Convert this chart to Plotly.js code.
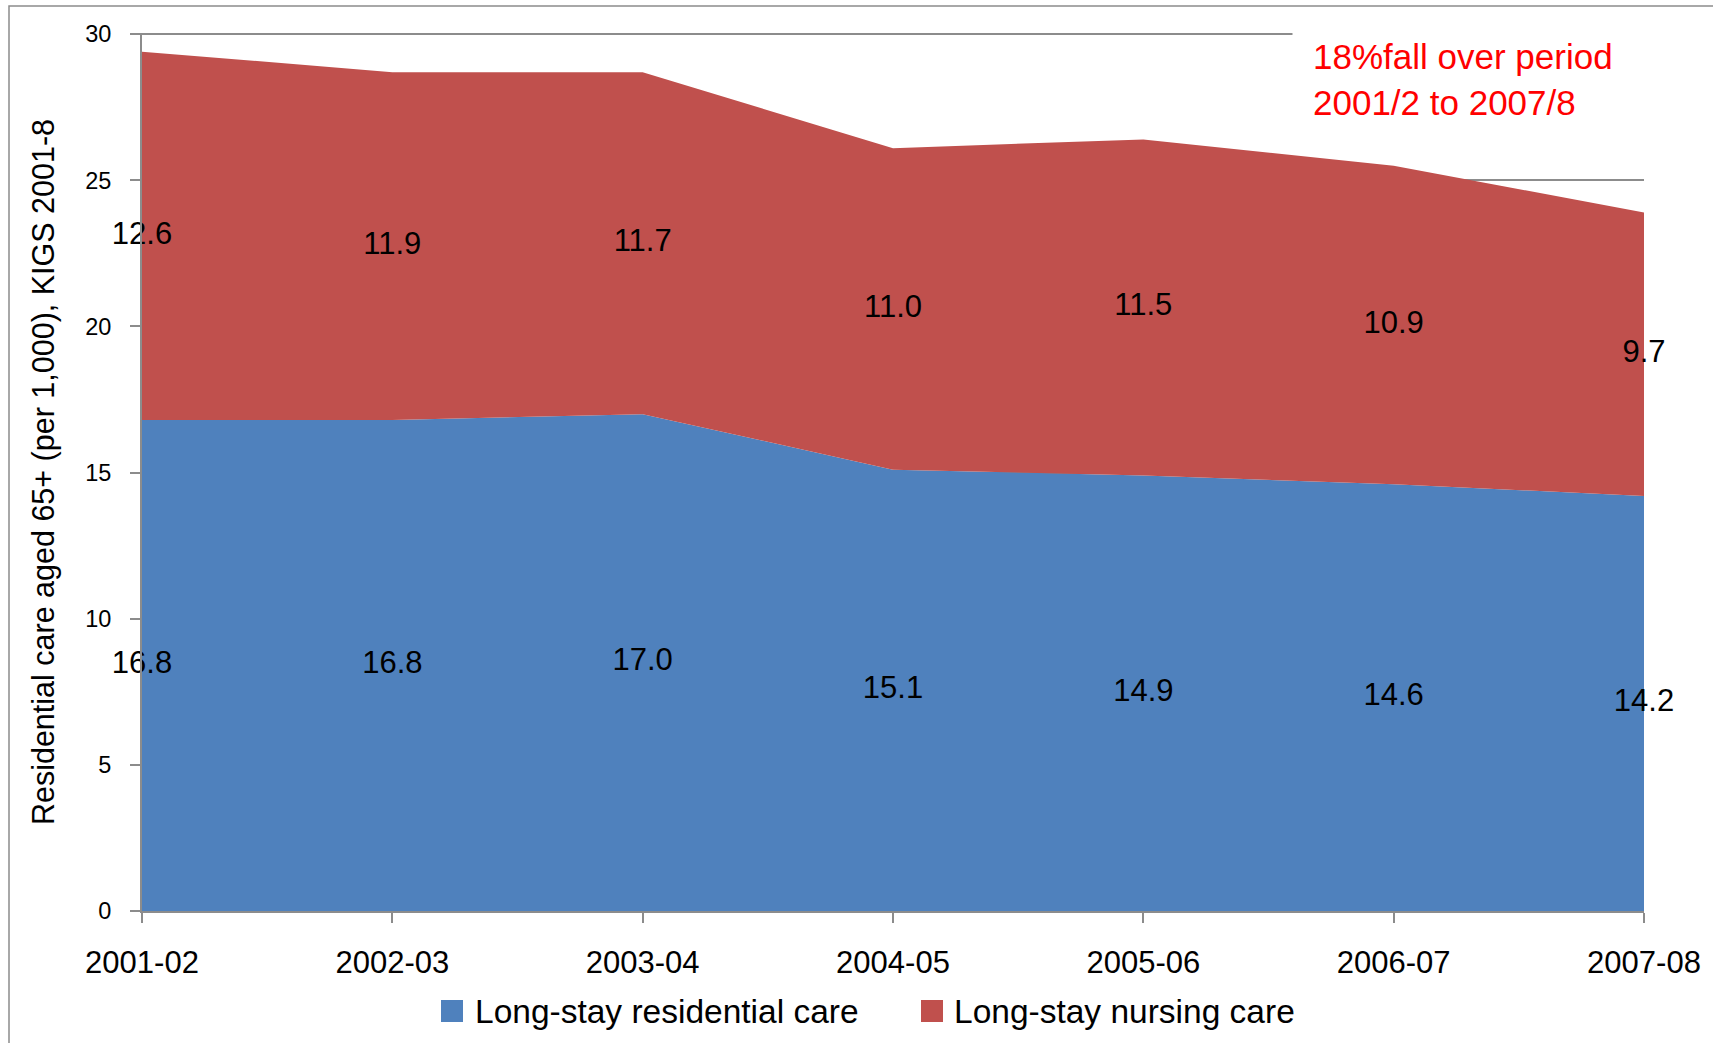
<!DOCTYPE html>
<html>
<head>
<meta charset="utf-8">
<script src="https://cdn.plot.ly/plotly-3.0.1.min.js"></script>
<style>
  html, body { margin: 0; padding: 0; background: #ffffff; }
  #chart { width: 1713px; height: 1043px; }
</style>
</head>
<body>
<div id="chart"></div>
<script>
// ---- data ----
const categories = ['2001-02', '2002-03', '2003-04', '2004-05', '2005-06', '2006-07', '2007-08'];
const residential = [16.8, 16.8, 17.0, 15.1, 14.9, 14.6, 14.2];
const nursing = [12.6, 11.9, 11.7, 11.0, 11.5, 10.9, 9.7];
const seriesNames = ['Long-stay residential care', 'Long-stay nursing care'];
const yTicks = [0, 5, 10, 15, 20, 25, 30];
const yTitle = 'Residential care aged 65+ (per 1,000), KIGS 2001-8';
const noteLines = ['18%fall over period', '2001/2 to 2007/8'];

// ---- style ----
const FONT = 'Arial, "Liberation Sans", sans-serif';
const BLUE = '#4F81BD';
const RED = '#C0504D';
const GRID = '#8c8c8c';
const W = 1713, H = 1043;
const M = {l: 142, r: 69, t: 33, b: 132};
const PW = W - M.l - M.r, PH = H - M.t - M.b;
const px = x => (x - M.l) / PW;          // pixel x -> paper x
const py = y => (H - M.b - y) / PH;      // pixel y -> paper y

const fmt = v => v.toFixed(1);
const resMid = residential.map(v => v / 2);
const nurMid = nursing.map((v, i) => residential[i] + v / 2);

const traces = [
  {
    type: 'scatter', mode: 'none', x: categories, y: residential,
    stackgroup: 'one', fillcolor: BLUE, name: seriesNames[0],
    line: {width: 0}, hoverinfo: 'skip', showlegend: false
  },
  {
    type: 'scatter', mode: 'none', x: categories, y: nursing,
    stackgroup: 'one', fillcolor: RED, name: seriesNames[1],
    line: {width: 0}, hoverinfo: 'skip', showlegend: false
  },
  {
    type: 'scatter', mode: 'text', x: categories, y: resMid,
    text: residential.map(fmt), textposition: 'middle center',
    textfont: {family: FONT, size: 31, color: '#000'},
    cliponaxis: false, showlegend: false, hoverinfo: 'skip'
  },
  {
    type: 'scatter', mode: 'text', x: categories, y: nurMid,
    text: nursing.map(fmt), textposition: 'middle center',
    textfont: {family: FONT, size: 31, color: '#000'},
    cliponaxis: false, showlegend: false, hoverinfo: 'skip'
  }
];

// manual legend
const legendItems = [
  {name: seriesNames[0], color: BLUE, sq: 441, tx: 473},
  {name: seriesNames[1], color: RED, sq: 921, tx: 952}
];
const legY = 1011;

const shapes = [
  // outer chart border
  {type: 'rect', xref: 'paper', yref: 'paper', x0: px(9), x1: px(1730), y0: py(1060), y1: py(6),
   line: {color: '#8c8c8c', width: 1.5}, fillcolor: 'rgba(0,0,0,0)', layer: 'below'}
];
const annotations = [
  {
    xref: 'paper', yref: 'paper', x: px(1292), y: py(16), xanchor: 'left', yanchor: 'top',
    text: noteLines.join('<br>'), showarrow: false, align: 'left',
    font: {family: FONT, size: 35, color: '#FF0000'},
    bgcolor: '#ffffff', borderpad: 20, width: 420
  }
];
legendItems.forEach(it => {
  shapes.push({type: 'rect', xref: 'paper', yref: 'paper',
    x0: px(it.sq), x1: px(it.sq + 22), y0: py(legY + 11), y1: py(legY - 11),
    fillcolor: it.color, line: {width: 0}});
  annotations.push({xref: 'paper', yref: 'paper', x: px(it.tx), y: py(legY),
    xanchor: 'left', yanchor: 'middle', text: it.name, showarrow: false,
    font: {family: FONT, size: 33.5, color: '#000'}});
});

const layout = {
  width: W, height: H,
  margin: M,
  paper_bgcolor: '#ffffff', plot_bgcolor: '#ffffff',
  font: {family: FONT, color: '#000'},
  showlegend: false,
  xaxis: {
    type: 'category', range: [0, categories.length - 1],
    showgrid: false, zeroline: false,
    showline: true, linecolor: GRID, linewidth: 2,
    ticks: 'outside', ticklen: 10, tickwidth: 2, tickcolor: GRID,
    tickfont: {family: FONT, size: 31, color: '#000'},
    ticklabelstandoff: 13
  },
  yaxis: {
    range: [0, 30.04], tickvals: yTicks, ticktext: yTicks.map(String),
    showgrid: true, gridcolor: GRID, gridwidth: 1.5, zeroline: false,
    showline: true, linecolor: GRID, linewidth: 2,
    ticks: 'outside', ticklen: 10, tickwidth: 2, tickcolor: GRID,
    tickfont: {family: FONT, size: 23.5, color: '#000'},
    ticklabelstandoff: 14,
    title: {text: yTitle, font: {family: FONT, size: 30.5, color: '#000'}, standoff: 21}
  },
  shapes: shapes,
  annotations: annotations
};

Plotly.newPlot('chart', traces, layout, {displayModeBar: false, responsive: false});
</script>
</body>
</html>
